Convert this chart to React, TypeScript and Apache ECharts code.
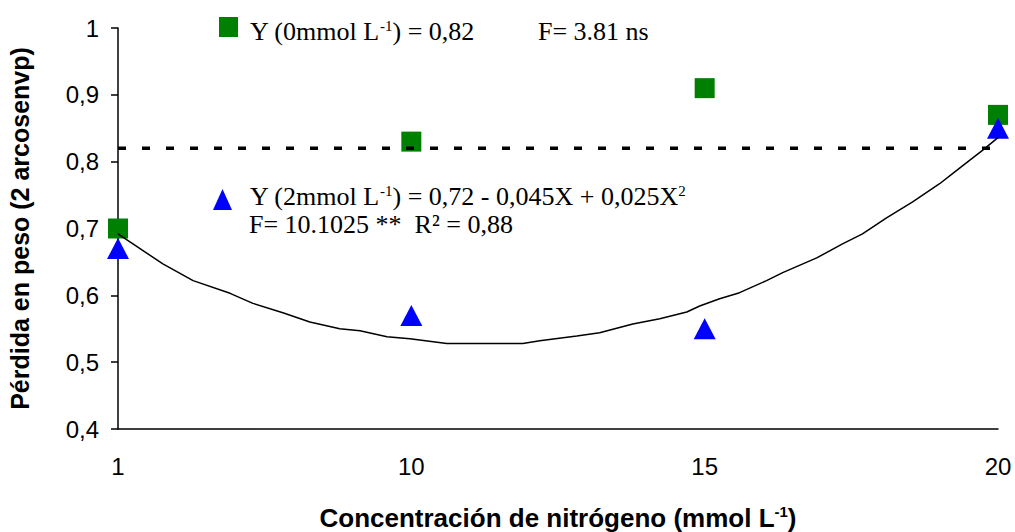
import React, { useEffect, useRef } from "react";
import * as echarts from "echarts";

const categories = ["1", "10", "15", "20"];
const series0mmol = [0.70, 0.83, 0.91, 0.87];
const series2mmol = [0.67, 0.57, 0.55, 0.85];
const mean0mmol = 0.82;
// fitted curve: [position index, value]
const curveX = [0, 0.153, 0.256, 0.382, 0.46, 0.562, 0.654, 0.756, 0.825, 0.917, 0.995, 1.121, 1.38, 1.438, 1.564, 1.642, 1.755, 1.847, 1.939, 1.983, 2.051, 2.119, 2.211, 2.266, 2.382, 2.47, 2.538, 2.62, 2.709, 2.801, 2.845, 2.903, 2.947, 3.0];
const curveY = [0.692, 0.647, 0.622, 0.603, 0.588, 0.574, 0.56, 0.55, 0.547, 0.538, 0.535, 0.528, 0.528, 0.532, 0.539, 0.544, 0.557, 0.565, 0.575, 0.584, 0.595, 0.604, 0.622, 0.634, 0.656, 0.677, 0.692, 0.716, 0.74, 0.767, 0.782, 0.802, 0.817, 0.836];
const yTicks = [0.4, 0.5, 0.6, 0.7, 0.8, 0.9, 1];

export default function App() {
  const ref = useRef<HTMLDivElement>(null);
  useEffect(() => {
    const chart = echarts.init(ref.current!, null, { renderer: "svg" });
    const serif = "'Liberation Serif', 'Times New Roman', serif";
    const sans = "'Liberation Sans', Arial, sans-serif";
    chart.setOption({
      animation: false,
      grid: { left: 118, right: 17, top: 28, bottom: 103, containLabel: false, outerBoundsMode: "none" },
      xAxis: {
        type: "value",
        min: 0,
        max: categories.length - 1,
        interval: 1,
        splitLine: { show: false },
        axisLine: { lineStyle: { color: "#000", width: 1.5 } },
        axisTick: { show: false },
        axisLabel: {
          color: "#000",
          fontFamily: sans,
          fontSize: 24,
          margin: 25,
          formatter: (v: number) => categories[Math.round(v)] ?? "",
        },
        name: "{b|Concentración de nitrógeno (mmol L}{s|-1}{b|)}",
        nameLocation: "middle",
        nameGap: 75,
        nameTextStyle: {
          rich: {
            b: { fontFamily: sans, fontSize: 26, fontWeight: "bold", color: "#000", lineHeight: 28 },
            s: { fontFamily: sans, fontSize: 15, fontWeight: "bold", color: "#000", verticalAlign: "top", lineHeight: 17 },
          },
        },
      },
      yAxis: {
        type: "value",
        min: 0.4,
        max: 1,
        interval: 0.1,
        splitLine: { show: false },
        axisLine: { show: true, lineStyle: { color: "#000", width: 1.5 } },
        axisTick: { show: true, length: 7, lineStyle: { color: "#000", width: 1.5 } },
        axisLabel: {
          color: "#000",
          fontFamily: sans,
          fontSize: 24,
          margin: 19,
          formatter: (v: number) => {
            const t = yTicks.find((k) => Math.abs(k - v) < 1e-6);
            if (t === undefined) return "";
            return t === 1 ? "1" : t.toFixed(1).replace(".", ",");
          },
        },
        name: "Pérdida en peso (2 arcosenvp)",
        nameLocation: "middle",
        nameGap: 86,
        nameTextStyle: { fontFamily: sans, fontSize: 25, fontWeight: "bold", color: "#000" },
      },
      series: [
        {
          type: "scatter",
          data: series0mmol.map((v, i) => [i, v]),
          symbol: "rect",
          symbolSize: 20,
          itemStyle: { color: "#008000", opacity: 1 },
          z: 2,
        },
        {
          type: "scatter",
          data: series2mmol.map((v, i) => [i, v]),
          symbol: "triangle",
          symbolSize: [22, 21],
          itemStyle: { color: "#0000ff", opacity: 1 },
          z: 3,
        },
        {
          type: "line",
          data: [[0, mean0mmol], [categories.length - 1, mean0mmol]],
          symbol: "none",
          lineStyle: { color: "#000", width: 3.5, type: [8, 16] },
          z: 4,
        },
        {
          type: "line",
          data: curveX.map((x, i) => [x, curveY[i]]),
          symbol: "none",
          lineStyle: { color: "#000", width: 1.5 },
          z: 5,
        },
      ],
      graphic: [
        { type: "rect", shape: { x: 219, y: 17, width: 19, height: 20 }, style: { fill: "#008000" } },
        {
          type: "text",
          x: 250,
          y: 31,
          style: {
            text: "{m|Y (0mmol L}{s|-1}{m|) = 0,82}",
            verticalAlign: "middle",
            rich: {
              m: { fontFamily: serif, fontSize: 26, fill: "#000" },
              s: { fontFamily: serif, fontSize: 15, fill: "#000", verticalAlign: "top" },
            },
          },
        },
        {
          type: "text",
          x: 538,
          y: 31,
          style: { text: "F= 3.81 ns", font: `26px ${serif}`, fill: "#000", verticalAlign: "middle" },
        },
        { type: "polygon", shape: { points: [[222.5, 189], [213, 210], [232, 210]] }, style: { fill: "#0000ff" } },
        {
          type: "text",
          x: 250,
          y: 196,
          style: {
            text: "{m|Y (2mmol L}{s|-1}{m|) = 0,72 - 0,045X + 0,025X}{s|2}",
            verticalAlign: "middle",
            rich: {
              m: { fontFamily: serif, fontSize: 26, fill: "#000" },
              s: { fontFamily: serif, fontSize: 15, fill: "#000", verticalAlign: "top" },
            },
          },
        },
        {
          type: "text",
          x: 249,
          y: 224,
          style: { text: "F= 10.1025 **  R² = 0,88", font: `26px ${serif}`, fill: "#000", verticalAlign: "middle" },
        },
      ],
    });
    return () => chart.dispose();
  }, []);
  return <div ref={ref} style={{ width: 1015, height: 532, position: "absolute", left: 0, top: 0 }} />;
}
